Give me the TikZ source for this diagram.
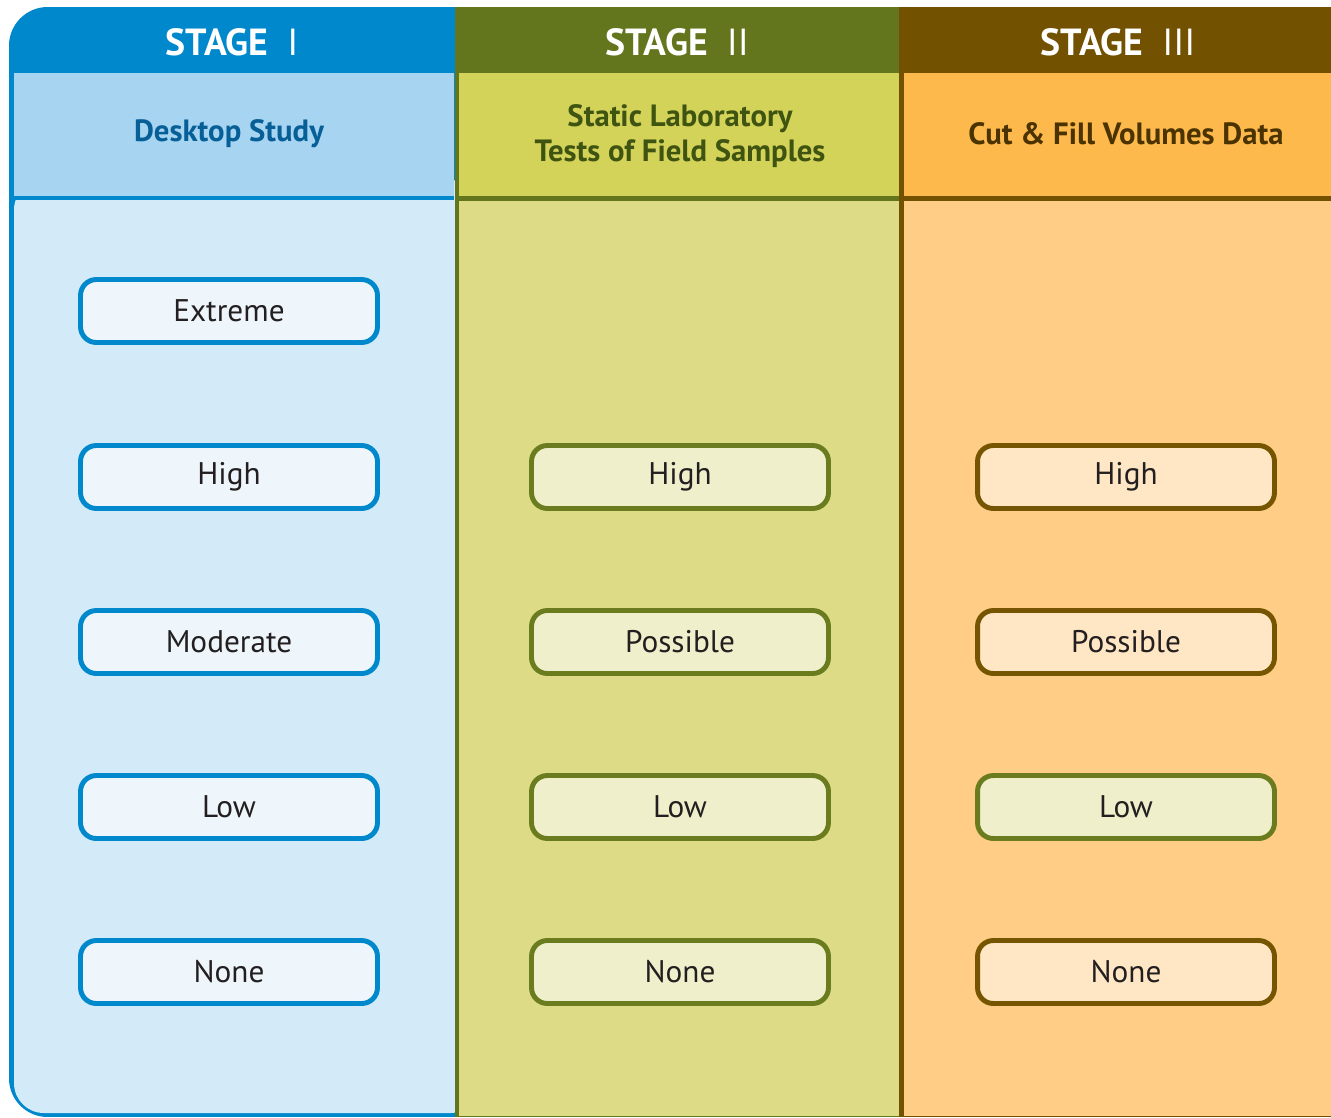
\documentclass[tikz,border=0pt]{standalone}
\usepackage{fontspec}
\setmainfont{PT Sans}
\usepackage{tikz}
\usepackage{xcolor}

\definecolor{oneDark}{HTML}{0088CC}
\definecolor{oneSub}{HTML}{A6D4F1}
\definecolor{oneBody}{HTML}{D3EAF8}
\definecolor{oneBox}{HTML}{EEF6FB}
\definecolor{oneText}{HTML}{075F98}
\definecolor{twoDark}{HTML}{63761E}
\definecolor{twoSub}{HTML}{D3D35A}
\definecolor{twoBody}{HTML}{DDDB86}
\definecolor{twoBox}{HTML}{EFEFCB}
\definecolor{twoLine}{HTML}{6A7C1E}
\definecolor{twoText}{HTML}{3F5410}
\definecolor{threeDark}{HTML}{725200}
\definecolor{threeSub}{HTML}{FDB94C}
\definecolor{threeBody}{HTML}{FFCD85}
\definecolor{threeBox}{HTML}{FFE6C4}
\definecolor{threeLine}{HTML}{765500}
\definecolor{threeText}{HTML}{4B3300}
\definecolor{ink}{HTML}{231F20}

\begin{document}
\begin{tikzpicture}[x=0.02cm,y=-0.02cm,
    stagehead/.style={text=white,font=\fontsize{21.5}{25}\selectfont},
    subhead/.style={align=center,font=\bfseries\fontsize{17.5}{19.5}\selectfont},
    level/.style={draw,line width=2.8pt,rounded corners=9pt,minimum width=5.94cm,
      minimum height=1.26cm,inner sep=0pt,text=ink,font=\fontsize{17.8}{20}\selectfont},
    levelone/.style={level,draw=oneDark,fill=oneBox},
    leveltwo/.style={level,draw=twoLine,fill=twoBox},
    levelthree/.style={level,draw=threeLine,fill=threeBox}]
  \path[use as bounding box] (0,0) rectangle (1331,1117);
  % Column bands, clipped to the outer frame (rounded on the left)
  \begin{scope}
    \clip[rounded corners=22] (9,7) rectangle (1380,1117);
    % stage I
    \fill[oneDark] (9,0) rectangle (455,1117);
    \fill[oneBody,rounded corners=17] (14,180) rectangle (480,1113);
    \fill[oneSub] (14,73) rectangle (454,196);
    \fill[oneDark] (14,196) rectangle (454,200);
    % stage II
    \fill[twoDark] (455,0) rectangle (899,1117);
    \fill[twoSub] (459,73) rectangle (899,196);
    \fill[twoBody] (459,201) rectangle (899,1116);
    % stage III
    \fill[threeDark] (899,0) rectangle (1331,1117);
    \fill[threeSub] (904,73) rectangle (1331,196);
    \fill[threeBody] (904,201) rectangle (1331,1116);
  \end{scope}
  % Headers
  \node[stagehead] (stage1) at (232,42) {\textbf{STAGE}\enspace I};
  \node[stagehead] (stage2) at (677,42) {\textbf{STAGE}\enspace II};
  \node[stagehead] (stage3) at (1118,42) {\textbf{STAGE}\enspace III};
  \node[subhead,text=oneText] (sub1) at (229,134) {Desktop Study};
  \node[subhead,text=twoText] (sub2) at (680,136) {Static Laboratory\\Tests of Field Samples};
  \node[subhead,text=threeText] (sub3) at (1126,134) {Cut \& Fill Volumes Data};
  % Levels
  \foreach \lbl/\y/\nm in {Extreme/311/ext,High/477/high,Moderate/642/mod,Low/807/low,None/972/none}
    \node[levelone] (one-\nm) at (229,\y) {\lbl};
  \foreach \lbl/\y/\nm in {High/477/high,Possible/642/pos,Low/807/low,None/972/none}
    \node[leveltwo] (two-\nm) at (680,\y) {\lbl};
  \node[levelthree] (three-high) at (1126,477) {High};
  \node[levelthree] (three-pos) at (1126,642) {Possible};
  \node[leveltwo] (three-low) at (1126,807) {Low};
  \node[levelthree] (three-none) at (1126,972) {None};
\end{tikzpicture}
\end{document}
